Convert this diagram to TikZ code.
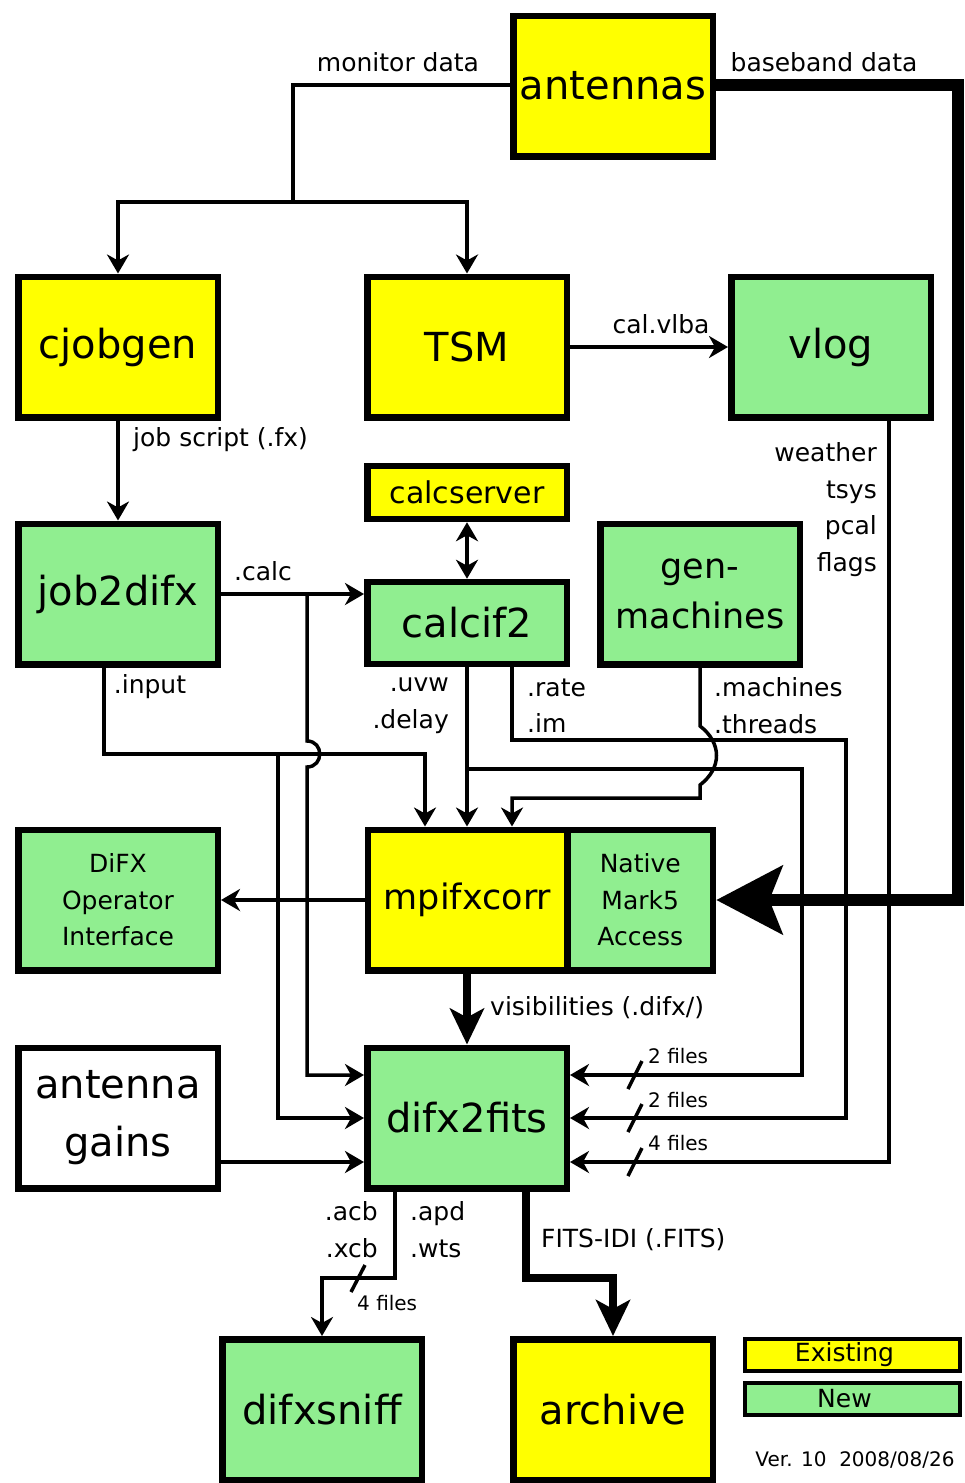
\documentclass[tikz,border=0pt]{standalone}
\usepackage{fontspec}
\setmainfont{DejaVu Sans}
\usetikzlibrary{arrows.meta}

\definecolor{oldyellow}{HTML}{FFFF00}
\definecolor{newgreen}{HTML}{90EE90}

\tikzset{
  >={Stealth[length=19pt,width=22pt,inset=6pt]},
  prog/.style={draw, line width=6.5pt, minimum width=199.5pt, minimum height=140.5pt,
    inner sep=0pt, align=center, font=\fontsize{40}{58}\selectfont},
  oldprog/.style={prog, fill=oldyellow},
  newprog/.style={prog, fill=newgreen},
  legendbox/.style={draw, line width=4pt, minimum width=215pt, minimum height=32pt,
    inner sep=0pt, font=\fontsize{25}{30}\selectfont},
  wire/.style={line width=3.5pt},
  pipe/.style={line width=8pt, -{Stealth[length=36pt,width=34pt,inset=9pt]}},
  feed/.style={line width=12pt, -{Stealth[length=66pt,width=68pt,inset=13pt]}},
  lbl/.style={inner sep=0pt, font=\fontsize{25}{36.5}\selectfont},
  small/.style={inner sep=0pt, font=\fontsize{20}{24}\selectfont}
}

\begin{document}
\begin{tikzpicture}[x=1pt,y=-1pt]
  \useasboundingbox (0,0) rectangle (964,1483);

  \node[oldprog] (antennas) at (613,86) {antennas};
  \node[oldprog] (cjobgen) at (118,347) {cjobgen};
  \node[oldprog] (TSM) at (467,347) {TSM};
  \node[newprog] (vlog) at (831,347) {vlog};
  \node[oldprog, minimum height=53pt, font=\fontsize{30}{36}\selectfont] (calcserver) at (467,492.5) {calcserver};
  \node[newprog] (job2difx) at (118,594) {job2difx};
  \node[newprog, minimum height=82pt] (calcif2) at (467,623) {calcif2};
  \node[newprog, font=\fontsize{35}{50}\selectfont] (genmachines) at (700,594) {gen-\\machines};
  \node[newprog, font=\fontsize{25}{36.5}\selectfont] (difxoi) at (118,900) {DiFX\\Operator\\Interface};
  \node[newprog, minimum width=145.5pt, font=\fontsize{25}{36.5}\selectfont] (native) at (640.25,900) {Native\\Mark5\\Access};
  \node[oldprog, font=\fontsize{35}{42}\selectfont] (mpifxcorr) at (467.5,900) {mpifxcorr};
  \node[prog, fill=white] (antgains) at (118,1118) {antenna\\gains};
  \node[newprog] (difx2fits) at (467,1118) {difx2fits};
  \node[newprog] (difxsniff) at (322,1409.5) {difxsniff};
  \node[oldprog] (archive) at (613,1409.5) {archive};

  \node[legendbox, fill=oldyellow] (existing) at (852.5,1355) {\hspace*{-16pt}Existing};
  \node[legendbox, fill=newgreen] (new) at (852.5,1399) {\hspace*{-16pt}New};
  \node[small] (version) at (855,1460) {Ver. 10~~2008/08/26};

  \coordinate (mon) at (293,202);
  \draw[wire] (antennas.west |- 0,85) -| (mon) -| (cjobgen.north) [->];
  \draw[wire,->] (mon) -| (TSM.north);
  \node[lbl] at (398,62) {monitor data};

  \draw[feed] (antennas.east |- 0,85) -- (958,85) |- (native.east);
  \node[lbl] at (824,62) {baseband data};

  \draw[wire,->] (cjobgen) -- (job2difx);
  \node[lbl, anchor=west] at (133,440) {job script (.fx)};

  \draw[wire,->] (TSM) -- (vlog);
  \node[lbl] at (661,324) {cal.vlba};

  \draw[wire,<->] (calcserver) -- (calcif2);

  \draw[wire,->] (job2difx.east) -- (job2difx.east -| calcif2.west);
  \node[lbl] at (263,571) {.calc};
  \draw[wire,->] (307,594) -- (307,741) .. controls (324,741) and (324,767) .. (307,767)
    |- (difx2fits.west |- 0,1075);

  \draw[wire,->] (job2difx.south -| 104,0) -- (104,754) -| (mpifxcorr.north -| 425,0);
  \draw[wire,->] (278,754) |- (difx2fits.west);
  \node[lbl] at (150,687) {.input};

  \draw[wire,->] (calcif2.south) -- (calcif2.south |- mpifxcorr.north);
  \draw[wire,->] (467,769) -| (802,1075) -- (difx2fits.east |- 0,1075);
  \node[lbl, anchor=east, align=right] at (449,705.5) {.uvw\\.delay};

  \draw[wire,->] (calcif2.south -| 512,0) |- (846,740) |- (difx2fits.east);
  \node[lbl, anchor=west, align=left] at (527,705.5) {.rate\\.im};

  \draw[wire,->] (genmachines.south -| 700,0) -- (700,726)
    .. controls (722,743) and (722,768) .. (700,785) |- (512,798) -- (mpifxcorr.north -| 512,0);
  \node[lbl, anchor=west, align=left] at (714,705.5) {.machines\\.threads};

  \draw[wire,->] (vlog.south -| 889,0) |- (difx2fits.east |- 0,1162);
  \node[lbl, anchor=east, align=right] at (877,509.5) {weather\\tsys\\pcal\\flags};

  \draw[wire] (628,1089) -- (642,1061);
  \draw[wire] (628,1132) -- (642,1104);
  \draw[wire] (628,1176) -- (642,1148);
  \node[small, anchor=west] at (648,1056) {2 files};
  \node[small, anchor=west] at (648,1100) {2 files};
  \node[small, anchor=west] at (648,1143) {4 files};

  \draw[wire,->] (mpifxcorr) -- (difxoi);

  \draw[pipe] (mpifxcorr.south -| difx2fits.north) -- (difx2fits.north);
  \node[lbl, anchor=west] at (490,1008) {visibilities (.difx/)};

  \draw[wire,->] (antgains.east |- 0,1162) -- (difx2fits.west |- 0,1162);

  \draw[wire,->] (difx2fits.south -| 395,0) -- (395,1278) -| (difxsniff.north);
  \draw[wire] (351,1292) -- (365,1265);
  \node[small, anchor=west] at (357,1303) {4 files};
  \node[lbl, anchor=east, align=right] at (378,1229.5) {.acb\\.xcb};
  \node[lbl, anchor=west, align=left] at (410,1229.5) {.apd\\.wts};

  \draw[pipe] (difx2fits.south -| 526,0) -- (526,1278) -| (archive.north);
  \node[lbl, anchor=west] at (541,1240) {FITS-IDI (.FITS)};
\end{tikzpicture}
\end{document}
